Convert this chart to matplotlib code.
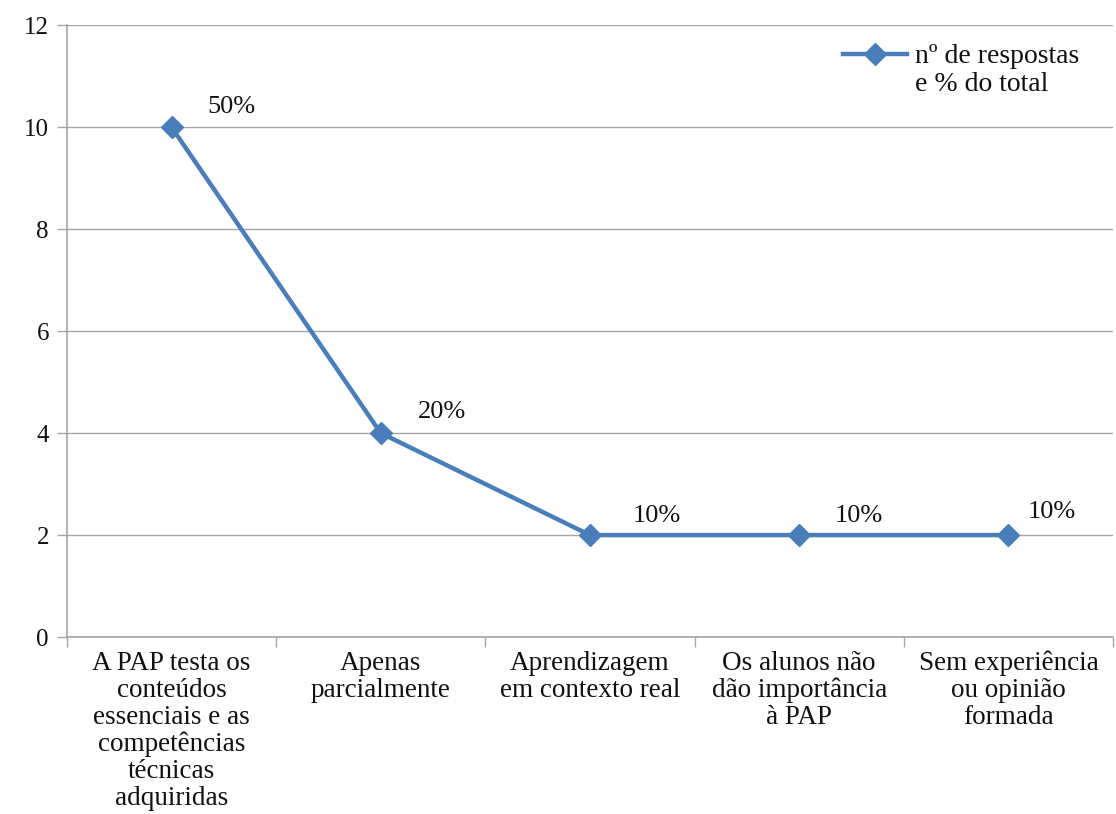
import numpy as np
import matplotlib.pyplot as plt
from matplotlib.ticker import FixedLocator

plt.rcParams['font.family'] = ['Liberation Serif', 'DejaVu Serif']

# data
categories = [
    "A PAP testa os\nconteúdos\nessenciais e as\ncompetências\ntécnicas\nadquiridas",
    "Apenas\nparcialmente",
    "Aprendizagem\nem contexto real",
    "Os alunos não\ndão importância\nà PAP",
    "Sem experiência\nou opinião\nformada",
]
respostas = [10, 4, 2, 2, 2]
percent_labels = ["50%", "20%", "10%", "10%", "10%"]
label_dx = [60, 61, 67, 60, 43]   # pixel offsets of the % labels
label_dy = [20, 21, 19, 19, 23]

line_color = '#4a7ebb'
grid_color = '#a6a6a6'

fig = plt.figure(figsize=(11.16, 8.14), dpi=100)
ax = fig.add_axes([0.060, 0.2174, 0.9373, 0.7516])

x = np.arange(len(categories))
ax.plot(x, respostas, color=line_color, lw=3.2, marker='D', ms=11,
        markeredgecolor=line_color, label='nº de respostas\ne % do total', zorder=3)

for xi, yi, t, dx, dy in zip(x, respostas, percent_labels, label_dx, label_dy):
    ax.annotate(t, (xi, yi), xytext=(dx * 0.72, dy * 0.72), textcoords='offset points',
                ha='center', va='center', fontsize=19, color='#111111')

ax.set_xlim(-0.5, len(categories) - 0.5)
ax.set_ylim(0, 12)
ax.set_yticks(np.arange(0, 13, 2))
ax.yaxis.grid(True, color=grid_color, lw=1)
ax.set_axisbelow(True)

ax.set_xticks(x)
ax.set_xticklabels(categories, fontsize=19.5, color='#111111', linespacing=1.1)
ax.tick_params(axis='x', which='major', length=0, pad=10)
ax.xaxis.set_minor_locator(FixedLocator(np.arange(-0.5, len(categories), 1.0)))
ax.tick_params(axis='x', which='minor', length=7, width=1, color=grid_color)
ax.tick_params(axis='y', length=7, width=1, color=grid_color, labelsize=18,
               labelcolor='#111111', pad=6)

for s in ['top', 'right']:
    ax.spines[s].set_visible(False)
for s in ['left', 'bottom']:
    ax.spines[s].set_color(grid_color)
    ax.spines[s].set_linewidth(1.2)

leg = ax.legend(loc='upper right', bbox_to_anchor=(0.992, 1.01), frameon=False,
                fontsize=20, handlelength=2.3, handletextpad=0.3, labelcolor='#111111')
for t in leg.get_texts():
    t.set_linespacing(1.15)
# put the marker next to the first line, like the original
for col in leg._legend_handle_box.get_children():
    for item in col.get_children():
        item.align = 'top'

fig.savefig('out.png', dpi=100)
